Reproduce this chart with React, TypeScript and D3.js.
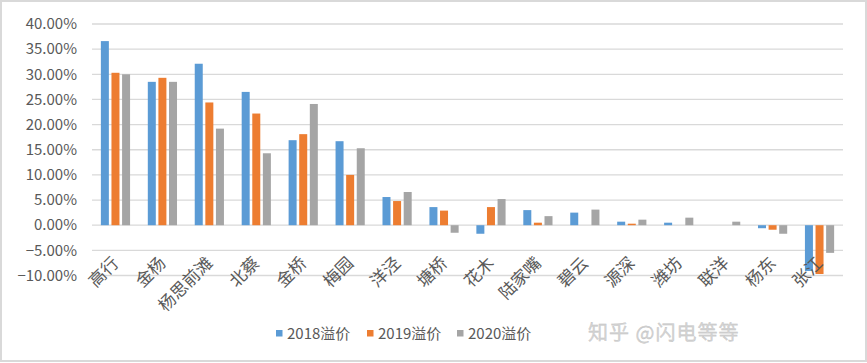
import React from "react";
import * as d3 from "d3";

const categories = ["高行", "金杨", "杨思前滩", "北蔡", "金桥", "梅园", "洋泾", "塘桥", "花木", "陆家嘴", "碧云", "源深", "潍坊", "联洋", "杨东", "张江"];
const seriesNames = ["2018溢价", "2019溢价", "2020溢价"];
const values2018 = [36.6, 28.5, 32.1, 26.5, 16.9, 16.7, 5.6, 3.6, -1.7, 3.0, 2.5, 0.7, 0.5, 0, -0.6, -9.1];
const values2019 = [30.3, 29.3, 24.4, 22.2, 18.1, 10.0, 4.8, 2.9, 3.6, 0.5, 0, 0.3, 0, 0, -0.9, -9.7];
const values2020 = [30.0, 28.5, 19.2, 14.3, 24.1, 15.3, 6.6, -1.5, 5.2, 1.8, 3.1, 1.1, 1.5, 0.7, -1.7, -5.5];
const yTicks = [40, 35, 30, 25, 20, 15, 10, 5, 0, -5, -10];
const colors = ["#5b9bd5", "#ed7d31", "#a5a5a5"];

const W = 867;
const H = 363;
const FONT = "'Noto Sans CJK SC', 'Noto Sans', sans-serif";

export default function App() {
  const series = [values2018, values2019, values2020];
  const x = d3.scaleBand<string>().domain(categories).range([92, 843]).paddingInner(0).paddingOuter(0);
  const y = d3.scaleLinear().domain([-10, 40]).range([275.5, 24]);
  const bw = 8;
  const step = 10.6;
  const legendX = [276, 367, 457];

  return (
    <svg width={W} height={H} style={{ position: "absolute", left: 0, top: 0, display: "block" }} fontFamily={FONT}>
      <rect x={0} y={0} width={W} height={H} fill="#ffffff" />
      <rect x={1} y={1} width={W - 2} height={H - 3} fill="none" stroke="#d9d9d9" strokeWidth={2} />
      {yTicks.map((t) => (
        <g key={t}>
          <line x1={92} x2={843} y1={y(t)} y2={y(t)} stroke="#d9d9d9" strokeWidth={1.3} />
          <text x={77} y={y(t)} dy="0.35em" textAnchor="end" fontSize={15} fill="#595959">
            {d3.format(".2f")(t) + "%"}
          </text>
        </g>
      ))}
      {categories.map((c, i) => {
        const cx = (x(c) as number) + x.bandwidth() / 2;
        return (
          <g key={c}>
            {series.map((s, j) => {
              const v = s[i];
              if (v === 0) return null;
              const bx = cx + (j - 1) * step - bw / 2;
              return (
                <rect
                  key={j}
                  x={bx}
                  y={Math.min(y(v), y(0))}
                  width={bw}
                  height={Math.abs(y(v) - y(0))}
                  fill={colors[j]}
                />
              );
            })}
            <text
              transform={`translate(${cx - 1},${259}) rotate(-45)`}
              textAnchor="end"
              dominantBaseline="central"
              fontSize={17}
              fill="#595959"
            >
              {c}
            </text>
          </g>
        );
      })}
      {seriesNames.map((n, j) => (
        <g key={n}>
          <rect x={legendX[j]} y={330} width={6.5} height={6.5} fill={colors[j]} />
          <text x={legendX[j] + 11} y={333.5} dy="0.35em" fontSize={15} fill="#595959">
            {n}
          </text>
        </g>
      ))}
      <text x={588} y={333} dy="0.35em" fontSize={20} fill="#d4d4d4" stroke="#bdbdbd" strokeWidth={0.3} letterSpacing={1}>
        知乎 @闪电等等
      </text>
    </svg>
  );
}
